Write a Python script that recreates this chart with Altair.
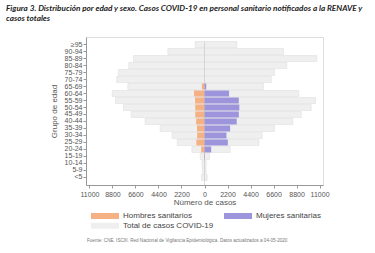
import altair as alt
import pandas as pd

ages = ["<5", "5-9", "10-14", "15-19", "20-24", "25-29", "30-34", "35-39", "40-44",
        "45-49", "50-54", "55-59", "60-64", "65-69", "70-74", "75-79", "80-84",
        "85-89", "90-94", "≥95"]
total_hombres = [290, 200, 250, 410, 1210, 2610, 3090, 4240, 5680, 7010, 7750,
                 8510, 8830, 7330, 8390, 8230, 7240, 6790, 3510, 890]
total_mujeres = [260, 160, 160, 480, 2460, 5200, 5520, 6700, 8450, 9250, 10200,
                 10620, 9020, 5640, 6380, 6700, 7870, 10740, 7560, 3090]
san_hombres = [0, 0, 0, 40, 320, 780, 700, 720, 800, 880, 880, 900, 1000, 250,
               0, 0, 0, 0, 0, 0]
san_mujeres = [0, 0, 0, 40, 640, 2230, 2100, 2450, 3080, 3280, 3330, 3280, 2350,
               170, 0, 0, 0, 0, 0, 0]
tick_values = [-11000, -8800, -6600, -4400, -2200, 0, 2200, 4400, 6600, 8800, 11000]

S_H = "Hombres sanitarios"
S_M = "Mujeres sanitarias"
S_T = "Total de casos COVID-19"

rows_tot = []
rows_san = []
for i, a in enumerate(ages):
    rows_tot.append({"edad": a, "serie": S_T, "x": -total_hombres[i], "x2": 0})
    rows_tot.append({"edad": a, "serie": S_T, "x": 0, "x2": total_mujeres[i]})
    if san_hombres[i] > 0:
        rows_san.append({"edad": a, "serie": S_H, "x": -san_hombres[i], "x2": 0})
    if san_mujeres[i] > 0:
        rows_san.append({"edad": a, "serie": S_M, "x": 0, "x2": san_mujeres[i]})

df_tot = pd.DataFrame(rows_tot)
df_san = pd.DataFrame(rows_san)

FONT = "Liberation Sans"
LABEL_COLOR = "#555555"

y_enc = alt.Y(
    "edad:N",
    sort=list(reversed(ages)),
    scale=alt.Scale(paddingInner=0.14, paddingOuter=0.65),
    axis=alt.Axis(
        title="Grupo de edad", titleFontSize=8, titleFont=FONT, titleFontWeight="normal",
        titleColor=LABEL_COLOR, titlePadding=6,
        labelFontSize=7, labelFont=FONT, labelColor=LABEL_COLOR, labelPadding=1,
        tickSize=3, tickColor="#999999", domainColor="#999999", labelOverlap=False,
    ),
)
x_scale = alt.Scale(domain=[-11330, 11330], nice=False, zero=False)
x_axis = alt.Axis(
    title="Número de casos", titleFontSize=8, titleFont=FONT, titleFontWeight="normal",
    titleColor=LABEL_COLOR, titlePadding=1,
    values=tick_values, labelExpr="format(abs(datum.value), 'd')",
    labelFontSize=7, labelFont=FONT, labelColor=LABEL_COLOR, labelPadding=2,
    tickSize=3, tickColor="#999999", domainColor="#999999", grid=False, labelOverlap=False,
)
color_scale = alt.Scale(domain=[S_H, S_M, S_T], range=["#F4B183", "#9C95DC", "#EFEFEF"])
legend = alt.Legend(
    title=None, orient="none", legendX=5, legendY=174, direction="horizontal", columns=2,
    symbolType="M-1,-0.22H1V0.22H-1Z", symbolSize=784, symbolStrokeWidth=0,
    clipHeight=9.5, rowPadding=0, columnPadding=10, labelOffset=4,
    labelFontSize=8, labelFont=FONT, labelColor="#444444", padding=0,
    labelLimit=200,
)

base_tot = alt.Chart(df_tot).mark_bar(stroke="#DADADA", strokeWidth=0.5).encode(
    y=y_enc,
    x=alt.X("x:Q", scale=x_scale, axis=x_axis),
    x2="x2:Q",
    color=alt.Color("serie:N", scale=color_scale, legend=legend),
)
base_san = alt.Chart(df_san).mark_bar().encode(
    y=y_enc,
    x=alt.X("x:Q", scale=x_scale, axis=x_axis),
    x2="x2:Q",
    color=alt.Color("serie:N", scale=color_scale, legend=legend),
)
zero_line = alt.Chart(pd.DataFrame({"x": [0]})).mark_rule(
    color="#CFCFCF", strokeWidth=0.7
).encode(x=alt.X("x:Q", scale=x_scale, axis=x_axis), y=alt.value(5), y2=alt.value(148))

footer = alt.Chart(pd.DataFrame({"t": [
    "Fuente: CNE. ISCIII. Red Nacional de Vigilancia Epidemiológica. Datos actualizados a 04-05-2020"
]})).mark_text(align="left", baseline="middle", fontSize=4.6, font=FONT, color="#777777").encode(
    text="t:N", x=alt.value(1), y=alt.value(204)
)

chart = alt.layer(base_tot, zero_line, base_san, footer).properties(
    width=237, height=148,
    autosize=alt.AutoSizeParams(type="none"),
    padding={"left": 86, "top": 37, "right": 52, "bottom": 68},
    title=alt.TitleParams(
        text=["Figura 3. Distribución por edad y sexo. Casos COVID-19 en personal sanitario notificados a la RENAVE y",
              "casos totales"],
        anchor="start", frame="group", font="Lato", fontSize=8.2, fontWeight="bold",
        fontStyle="italic", color="#222222", dx=-80, offset=14, lineHeight=10,
    ),
).configure_view(stroke=None).configure(background="white")

chart.save("out.html", embed_options={"renderer": "svg", "actions": False})
